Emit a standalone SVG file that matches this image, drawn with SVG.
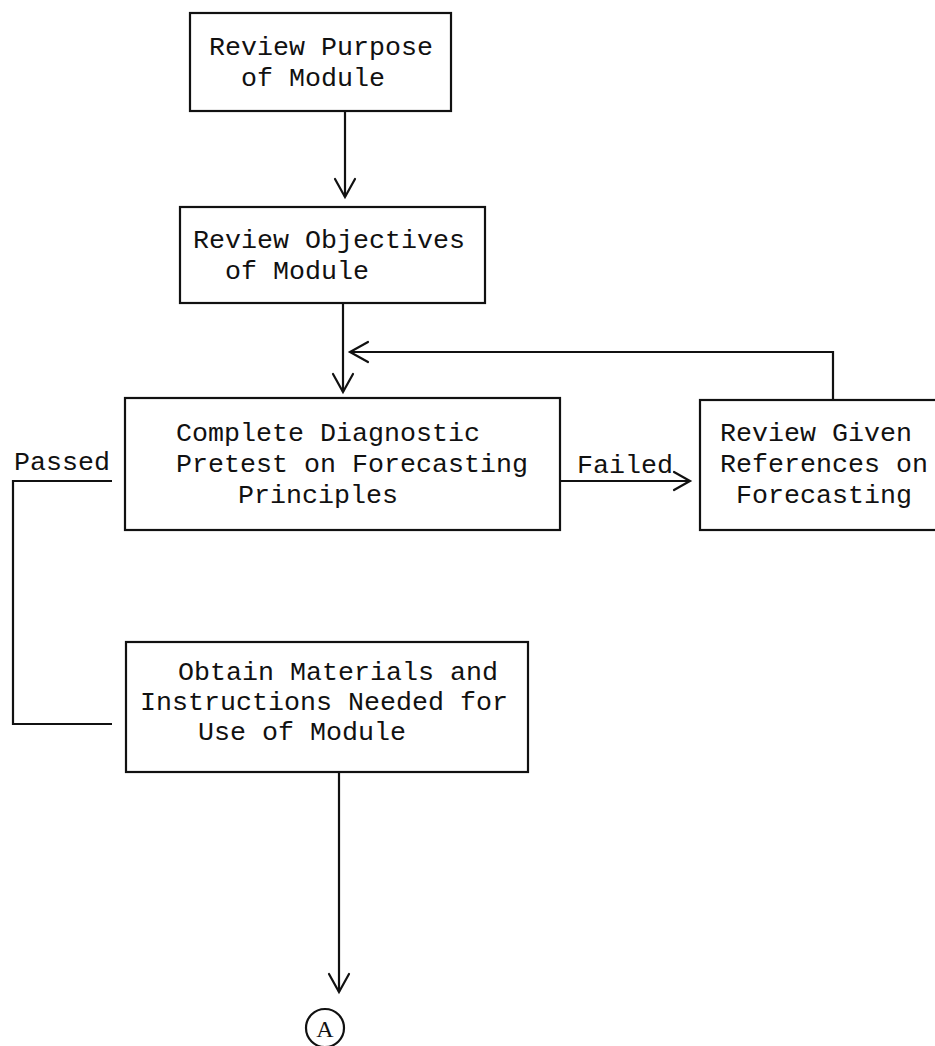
<svg xmlns="http://www.w3.org/2000/svg" width="935" height="1046" viewBox="0 0 935 1046">
<style>
.box{fill:none;stroke:#111;stroke-width:2.2}
.ln{fill:none;stroke:#111;stroke-width:2.2}
.ah{fill:none;stroke:#111;stroke-width:2.2;stroke-linecap:round;stroke-linejoin:miter}
text{font-family:"Liberation Mono","DejaVu Sans Mono",monospace;font-size:26.67px;fill:#111}
.a{font-family:"Liberation Serif","DejaVu Serif",serif;font-size:24px}
</style>
<rect width="935" height="1046" fill="#fff"/>
<g id="n1">
<rect class="box" x="190" y="13" width="261" height="98"/>
<text x="209" y="55">Review Purpose</text>
<text x="241" y="86">of Module</text>
</g>
<g id="n2">
<rect class="box" x="180" y="207" width="305" height="96"/>
<text x="193" y="248">Review Objectives</text>
<text x="225" y="279">of Module</text>
</g>
<g id="n3">
<rect class="box" x="125" y="398" width="435" height="132"/>
<text x="176" y="441">Complete Diagnostic</text>
<text x="176" y="472">Pretest on Forecasting</text>
<text x="238" y="503">Principles</text>
</g>
<g id="n4">
<rect class="box" x="700" y="400" width="250" height="130"/>
<text x="720" y="441">Review Given</text>
<text x="720" y="472">References on</text>
<text x="736" y="503">Forecasting</text>
</g>
<g id="n5">
<rect class="box" x="126" y="642" width="402" height="130"/>
<text x="178" y="680">Obtain Materials and</text>
<text x="140" y="710">Instructions Needed for</text>
<text x="198" y="740">Use of Module</text>
</g>
<g id="n6">
<circle class="ln" cx="325" cy="1028" r="19"/>
<text class="a" x="325" y="1037" text-anchor="middle">A</text>
</g>
<g id="connectors">
<line class="ln" x1="345" y1="111" x2="345" y2="197"/>
<polyline class="ah" points="335,179 345,197 355,179"/>
<line class="ln" x1="343" y1="303" x2="343" y2="392"/>
<polyline class="ah" points="333,374 343,392 353,374"/>
<polyline class="ln" points="833,400 833,352 350,352"/>
<polyline class="ah" points="368,342 350,352 368,362"/>
<line class="ln" x1="560" y1="481" x2="690" y2="481"/>
<polyline class="ah" points="674,472 690,481 674,490"/>
<text x="577" y="473">Failed</text>
<text x="14" y="470">Passed</text>
<polyline class="ln" points="112,481 13,481 13,724 112,724"/>
<line class="ln" x1="339" y1="772" x2="339" y2="992"/>
<polyline class="ah" points="329,974 339,992 349,974"/>
</g>
</svg>
